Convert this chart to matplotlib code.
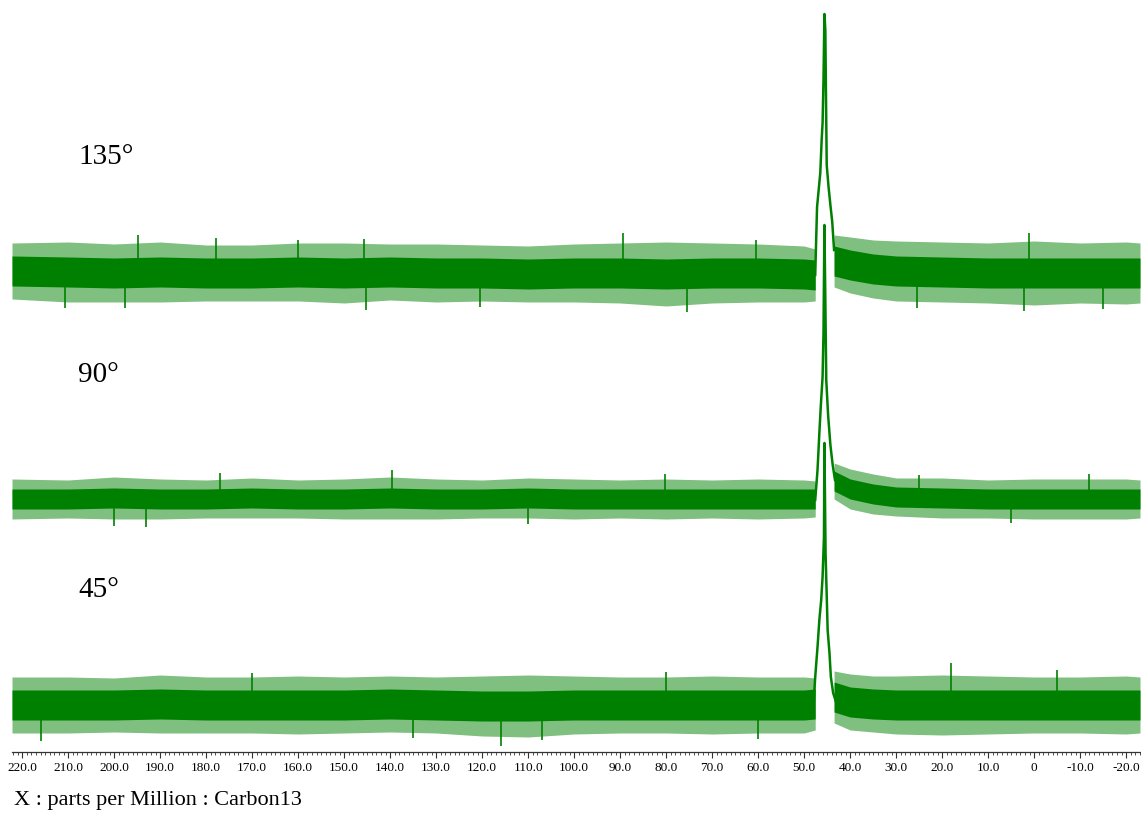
import numpy as np
import matplotlib.pyplot as plt
from matplotlib.ticker import MultipleLocator, FixedLocator

plt.rcParams['font.family'] = ['Liberation Serif', 'DejaVu Serif']

# ppm positions where the noise band of each spectrum was read
noise_ppm_left = [222.2, 210, 200, 190, 180, 170, 160, 150, 140, 130, 120, 110, 100, 90, 80, 70, 60, 50, 47.6]
noise_ppm_right = [43.5, 40, 35, 30, 20, 10, 0, -10, -20, -23.0]

labels = ['135°', '90°', '45°']
offsets = [479, 253, 47]          # stacking offset of each spectrum
core_width = [15, 10, 15]         # half width of the dense part of the noise

# baseline level (relative to offset) along the grids
center_left = [
    [2, 1, 0, 1, 0, 0, 1, 0, 1, 0, 0, -1, 0, 0, -1, 0, 0, -1, -2],
    [0, 0, 1, 0, 0, 1, 0, 0, 1, 0, 0, 1, 0, 0, 0, 0, 0, 0, 0],
    [0, 0, 0, 1, 0, 0, 0, 0, 1, 0, -1, -1, 0, 0, 0, 0, 0, 0, 1],
]
center_right = [
    [12, 8, 4, 2, 1, 0, 0, 0, 0, 0],
    [18, 10, 5, 2, 1, 0, 0, 0, 0, 0],
    [8, 3, 1, 0, 0, 0, 0, 0, 0, 0],
]
# outer half width of the noise
spread_left = [
    [28, 30, 29, 30, 28, 28, 29, 30, 28, 29, 28, 28, 29, 30, 32, 30, 29, 28, 26],
    [20, 19, 21, 20, 19, 20, 19, 20, 21, 20, 19, 20, 20, 19, 20, 19, 20, 19, 18],
    [28, 28, 27, 29, 28, 28, 29, 28, 28, 28, 30, 31, 29, 28, 28, 29, 28, 28, 26],
]
spread_right = [
    [26, 28, 29, 30, 30, 30, 32, 30, 31, 30],
    [18, 20, 20, 19, 20, 19, 20, 20, 20, 19],
    [26, 28, 28, 29, 30, 29, 28, 28, 29, 28],
]

# single tall spikes: ppm and intensity (relative to offset)
spike_ppm = [
    [210.6, 197.6, 194.8, 177.8, 145.6, 145.2, 89.3, 75.4, 25.4, 2.2, 1.1, 160.0, 120.5, 60.5, -15.0],
    [200.0, 193.0, 177.0, 139.6, 80.2, 110.0, 25.0, 5.0, -12.0],
    [216.0, 135.0, 116.0, 107.0, 80.0, 18.0, 60.0, -5.0, 170.0],
]
spike_int = [
    [-35, -35, 38, 35, 34, -37, 40, -39, -35, -38, 40, 33, -34, 33, -36],
    [-27, -28, 26, 29, 25, -25, 24, -24, 25],
    [-36, -33, -41, -35, 33, 42, -34, 35, 32],
]

# peak near 45.6 ppm, intensity relative to offset
peak_ppm = [
    [47.6, 47.2, 46.5, 46.2, 46.0, 45.8, 45.6, 45.4, 45.25, 45.1, 44.7, 44.3, 43.9, 43.5],
    [47.6, 47.1, 46.7, 46.4, 46.0, 45.8, 45.6, 45.4, 45.2, 44.8, 44.3, 43.8, 43.3],
    [48.0, 47.6, 47.1, 46.7, 46.3, 46.0, 45.7, 45.6, 45.35, 44.9, 44.5, 44.2, 43.7, 43.0],
]
peak_int = [
    [-2, 66, 100, 133, 150, 193, 259, 243, 173, 108, 86, 68, 51, 23],
    [-1, 29, 66, 92, 122, 166, 274, 199, 119, 84, 54, 34, 19],
    [-2, 28, 58, 85, 105, 128, 168, 262, 152, 75, 52, 28, 12, 2],
]

green = '#008000'

fig = plt.figure(figsize=(11.41, 8.14), dpi=100)
ax = fig.add_axes([12 / 1141, 62 / 814, 1128 / 1141, 752 / 814])

for i in range(3):
    off = offsets[i]
    for xs, c, s in [(noise_ppm_left, center_left[i], spread_left[i]),
                     (noise_ppm_right, center_right[i], spread_right[i])]:
        c = np.array(c) + off
        s = np.array(s)
        ax.fill_between(xs, c - s, c + s, color=green, alpha=0.5, lw=0)
        ax.fill_between(xs, c - core_width[i], c + core_width[i], color=green, lw=0)
    ax.vlines(spike_ppm[i], off, off + np.array(spike_int[i]), color=green, lw=1.2)
    ax.plot(peak_ppm[i], np.array(peak_int[i]) + off, color=green, lw=1.8)

ax.set_xlim(222.2, -23.0)
ax.set_ylim(0, 752)

for side in ['top', 'left', 'right']:
    ax.spines[side].set_visible(False)
ax.spines['bottom'].set_color('#333333')
ax.spines['bottom'].set_linewidth(0.9)
ax.set_yticks([])

majors = list(range(220, -30, -10))
ax.xaxis.set_major_locator(FixedLocator(majors))
ax.xaxis.set_minor_locator(MultipleLocator(1))
ax.set_xticklabels(['0' if v == 0 else f'{v:.1f}' for v in majors], fontsize=9.5)
ax.tick_params(axis='x', which='major', length=4, width=0.8, color='#333333', pad=3)
ax.tick_params(axis='x', which='minor', length=2, width=0.6, color='#333333')

label_y = [157, 375, 590]
for lab, y in zip(labels, label_y):
    fig.text(78 / 1141, 1 - y / 814, lab, fontsize=21, va='center', ha='left')

fig.text(14 / 1141, 1 - 801 / 814, 'X : parts per Million : Carbon13', fontsize=16,
         va='center', ha='left')

fig.savefig('out.png', dpi=100)
